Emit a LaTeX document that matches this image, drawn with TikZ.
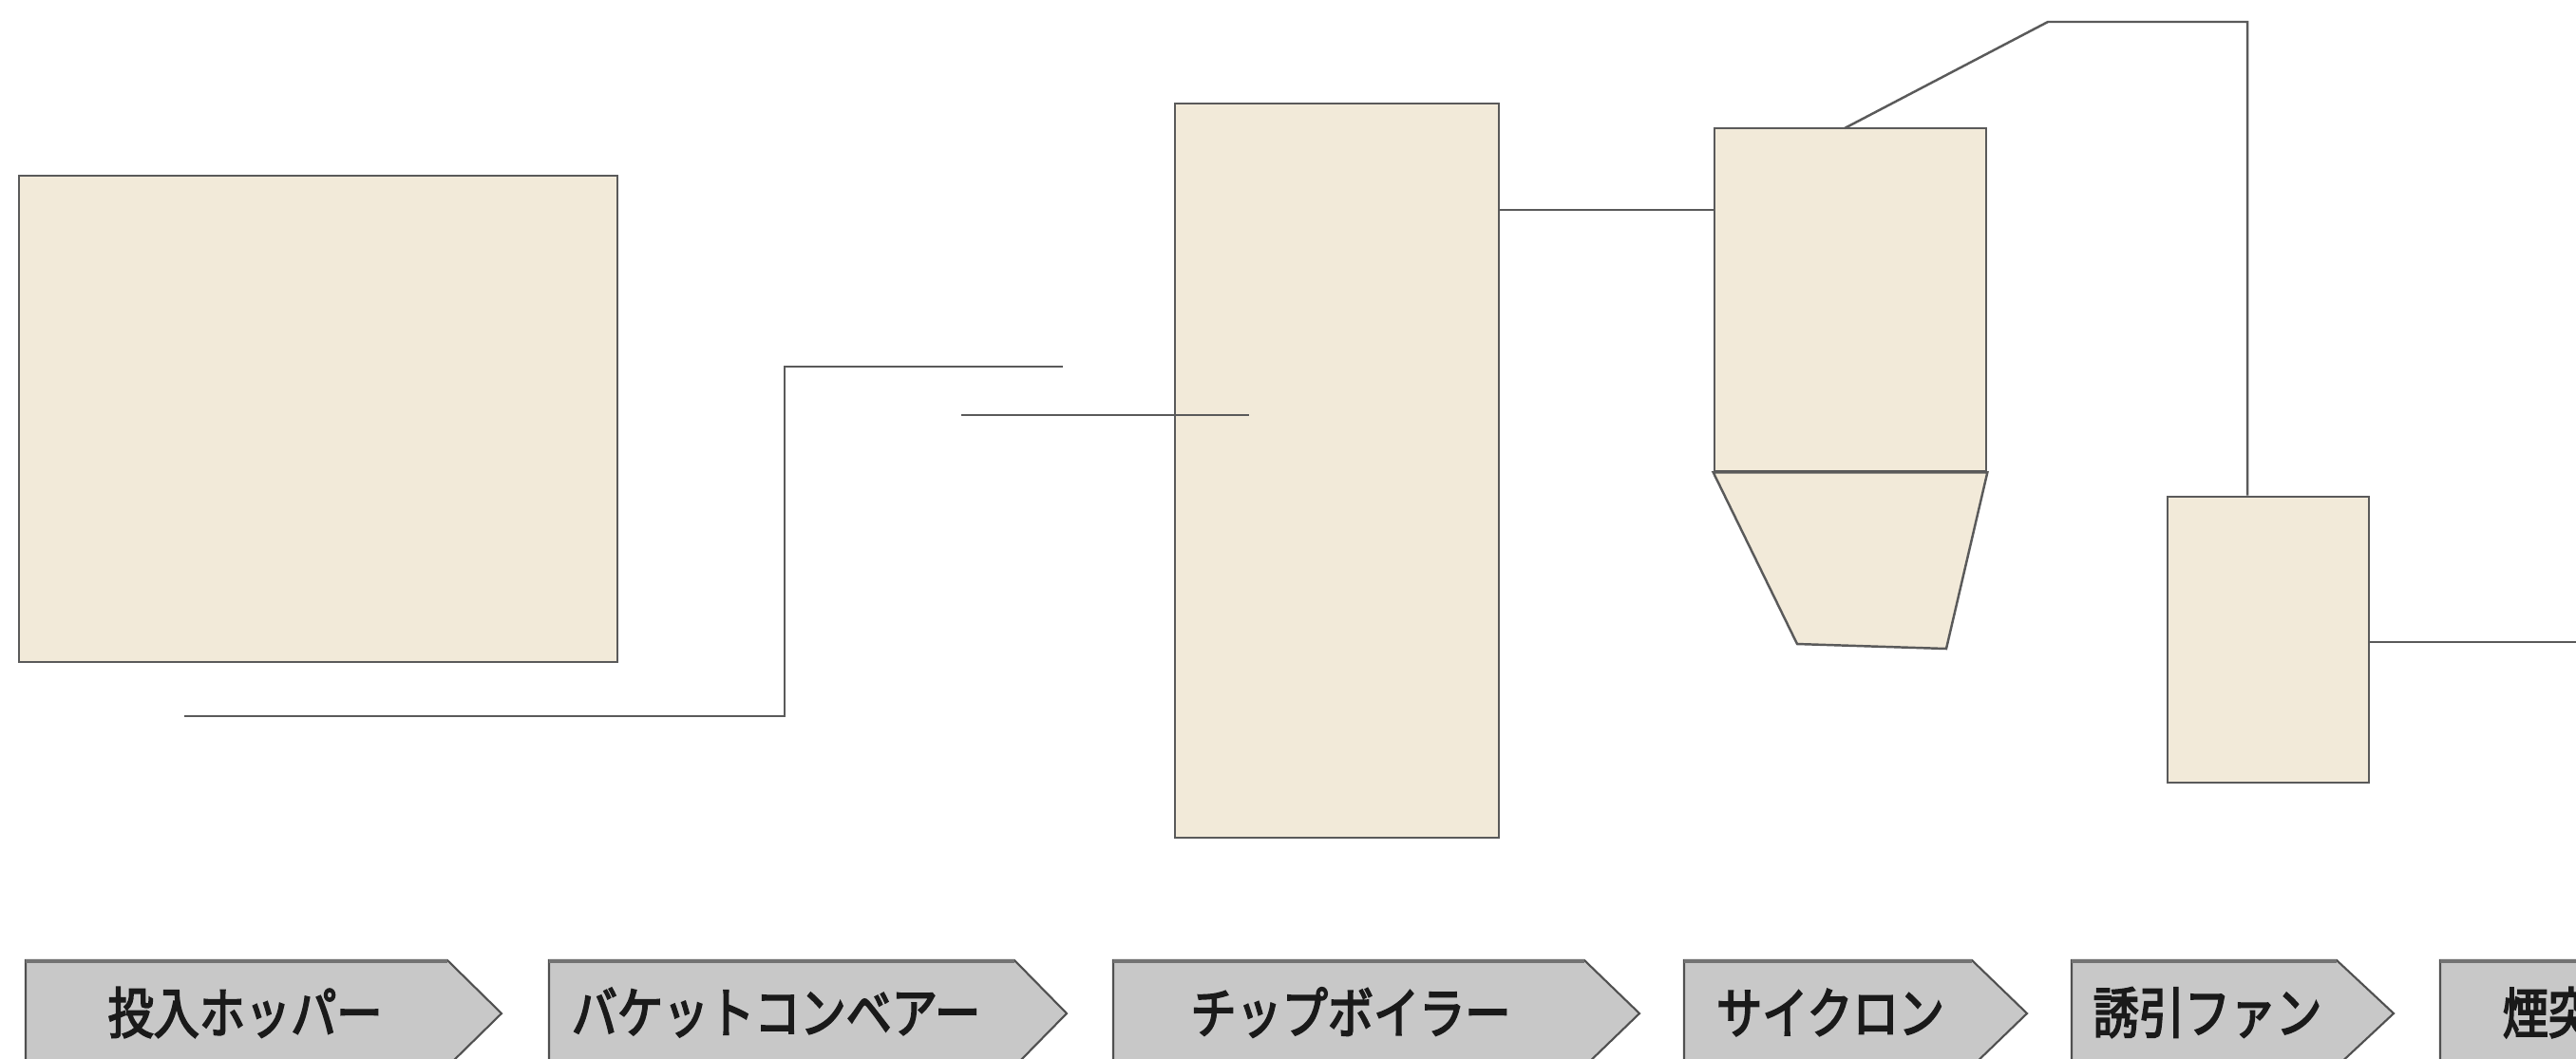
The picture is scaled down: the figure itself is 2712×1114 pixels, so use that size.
\documentclass[tikz,border=0pt]{standalone}
\usepackage{fontspec}
\newfontfamily\jp[FakeStretch=0.83,FakeBold=3]{Noto Sans CJK JP}
\definecolor{equipfill}{HTML}{F2EAD9}
\definecolor{linegray}{HTML}{5A5A5A}
\definecolor{labfill}{HTML}{C8C8C8}
\definecolor{labline}{HTML}{505050}
\definecolor{labtext}{HTML}{1A1A1A}
\tikzset{
  equip/.style={draw=linegray, fill=equipfill, line width=0.7pt, inner sep=0pt, rectangle},
  pipe/.style={draw=linegray, line width=0.7pt},
  labshape/.style={fill=labfill, draw=labline, line width=0.6pt},
  labtop/.style={draw=labline!80, line width=1.3pt},
  labtxt/.style={font=\jp\fontsize{16.5pt}{18pt}\selectfont, text=labtext, inner sep=0pt}
}
\newcommand{\procarrow}[3]{%
  \fill[labfill] (#1,1011) -- (#2,1011) -- (#3,1067) -- (#2,1123) -- (#1,1123) -- cycle;
  \draw[labshape] (#1,1130) -- (#1,1011) -- (#2,1011) -- (#3,1067) -- (#2,1123);
  \draw[labtop] (#1,1012) -- (#2,1012);
}
\begin{document}
\begin{tikzpicture}[x=0.01cm,y=-0.01cm]
\useasboundingbox (0,0) rectangle (2712,1114);
\clip (0,0) rectangle (2712,1114);
\fill[white] (0,0) rectangle (2712,1114);

% equipment
\node[equip, minimum width=6.30cm, minimum height=5.12cm] (hopper) at (335,441) {};
\node[equip, minimum width=3.41cm, minimum height=7.73cm] (boiler) at (1407.5,495.5) {};
\node[equip, minimum width=2.86cm, minimum height=3.61cm] (cyclone) at (1948,315.5) {};
\draw[equip] (cyclone.south west) -- (cyclone.south east) -- (2049,683) -- (1892,678) -- cycle;
\node[equip, minimum width=2.12cm, minimum height=3.01cm] (fan) at (2388,673.5) {};

% connectors
\coordinate (convA) at (194,754);
\coordinate (convB) at (826,754);
\coordinate (convC) at (826,386);
\coordinate (convD) at (1119,386);
\draw[pipe] (convA) -- (convB) -- (convC) -- (convD);

\coordinate (feedA) at (1012,437);
\coordinate (feedB) at (1315,437);
\draw[pipe] (feedA) -- (feedB);

\coordinate (gasY) at (0,221);
\draw[pipe] (boiler.east |- gasY) -- (cyclone.west |- gasY);

\coordinate (cycOut) at (1942,135);
\coordinate (duct1) at (2156,23);
\coordinate (duct2) at (2366,23);
\draw[pipe] (cycOut) -- (duct1) -- (duct2) -- (duct2 |- fan.north);

\coordinate (stackY) at (2712,676);
\draw[pipe] (fan.east |- stackY) -- (stackY);

% process labels
\procarrow{27}{471}{528}
\procarrow{578}{1068}{1123}
\procarrow{1172}{1668}{1726}
\procarrow{1773}{2076}{2134}
\procarrow{2181}{2460}{2520}
\procarrow{2569}{2760}{2817}

\node[labtxt] (l1) at (258,1066) {投入ホッパー};
\node[labtxt] (l2) at (817,1066) {バケットコンベアー};
\node[labtxt] (l3) at (1422,1066) {チップボイラー};
\node[labtxt] (l4) at (1927,1066) {サイクロン};
\node[labtxt] (l5) at (2324,1066) {誘引ファン};
\node[labtxt, anchor=west] (l6) at (2634,1066) {煙突};
\end{tikzpicture}
\end{document}
